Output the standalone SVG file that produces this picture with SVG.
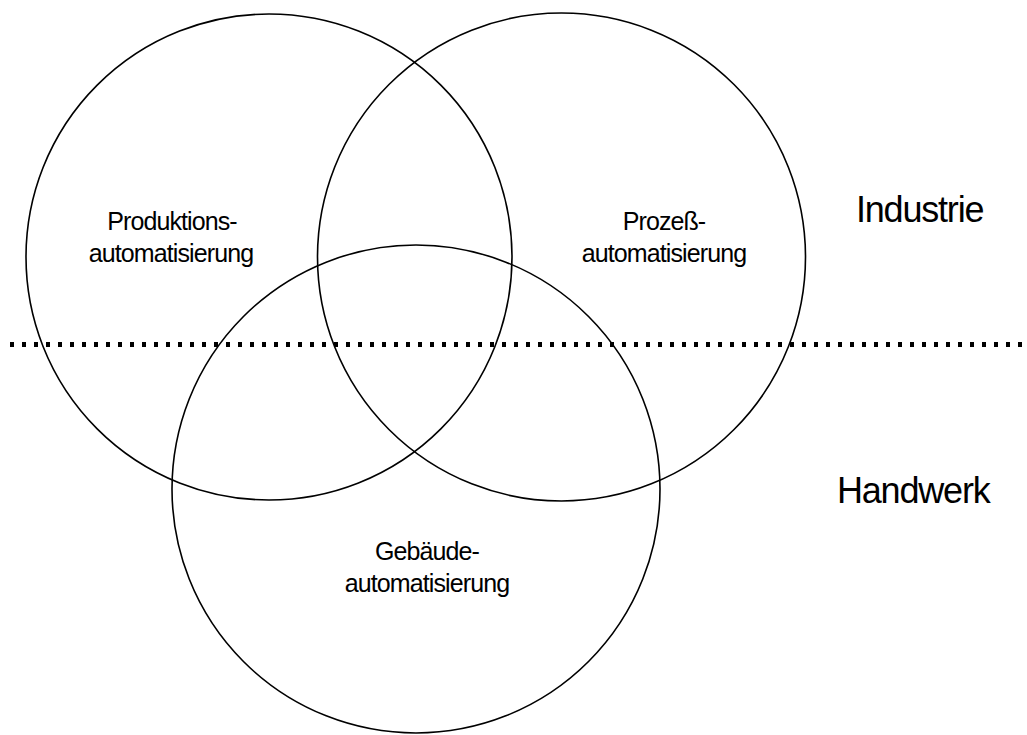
<svg xmlns="http://www.w3.org/2000/svg" width="1027" height="735" viewBox="0 0 1027 735">
  <style>
    .ring { fill: none; stroke: #000; stroke-width: 1.6; }
    .lbl { font-family: "Liberation Sans", Arial, sans-serif; font-size: 25px; letter-spacing: -0.9px; fill: #000; text-anchor: middle; }
    .side { font-family: "Liberation Sans", Arial, sans-serif; font-size: 36px; letter-spacing: -1.2px; fill: #000; }
    .divider { stroke: #000; stroke-width: 5; stroke-dasharray: 4 8; fill: none; }
  </style>
  <rect width="1027" height="735" fill="#fff"/>

  <!-- divider between industry and trade -->
  <g id="connectors">
    <line class="divider" x1="10" y1="344.5" x2="1027" y2="344.5"/>
  </g>

  <g id="produktion">
    <circle class="ring" cx="269" cy="257" r="243"/>
    <text class="lbl" x="172" y="230">Produktions-</text>
    <text class="lbl" x="171" y="262">automatisierung</text>
  </g>

  <g id="prozess">
    <circle class="ring" cx="561.5" cy="257" r="244"/>
    <text class="lbl" x="664" y="230">Prozeß-</text>
    <text class="lbl" x="664" y="262">automatisierung</text>
  </g>

  <g id="gebaeude">
    <circle class="ring" cx="416" cy="489" r="244"/>
    <text class="lbl" x="427" y="560">Gebäude-</text>
    <text class="lbl" x="427" y="592">automatisierung</text>
  </g>

  <g id="industrie">
    <text class="side" x="856" y="222">Industrie</text>
  </g>

  <g id="handwerk">
    <text class="side" x="837" y="503">Handwerk</text>
  </g>
</svg>
